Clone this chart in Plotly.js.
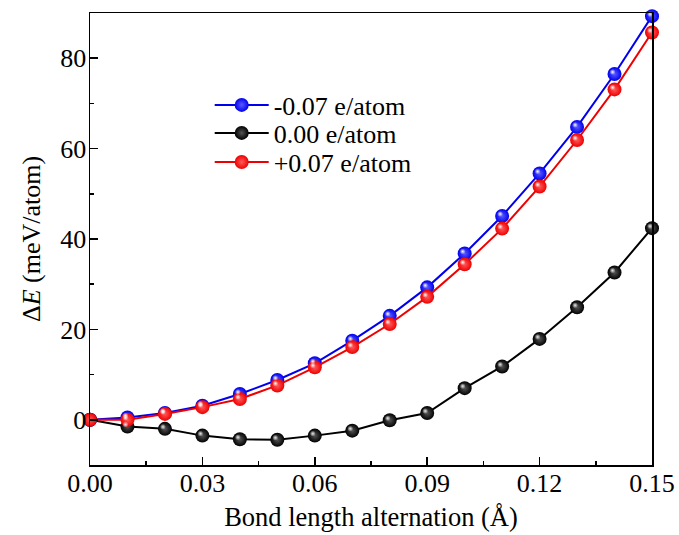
<!DOCTYPE html>
<html>
<head>
<meta charset="utf-8">
<script src="https://cdn.plot.ly/plotly-3.0.1.min.js"></script>
<style>html,body{margin:0;padding:0;background:#fff;}#chart{width:679px;height:535px;}</style>
</head>
<body>
<div id="chart"></div>
<script>
const bla = [0.00, 0.01, 0.02, 0.03, 0.04, 0.05, 0.06, 0.07, 0.08, 0.09, 0.10, 0.11, 0.12, 0.13, 0.14, 0.15];
const eNeg = [0.0, 0.5, 1.5, 3.1, 5.7, 8.8, 12.5, 17.5, 23.0, 29.3, 36.8, 45.1, 54.5, 64.8, 76.5, 89.3];
const eZero = [0.0, -1.5, -2.0, -3.5, -4.3, -4.4, -3.5, -2.4, -0.1, 1.5, 7.0, 11.8, 17.9, 24.9, 32.6, 42.4];
const ePos = [0.0, 0.0, 1.3, 2.8, 4.6, 7.6, 11.6, 16.1, 21.2, 27.2, 34.4, 42.3, 51.6, 61.9, 73.1, 85.7];
const names = ['-0.07 e/atom', '0.00 e/atom', '+0.07 e/atom'];
const xTitle = 'Bond length alternation (Å)';
const yTitle = 'Δ<i>E</i> (meV/atom)';

const FONT = "'Liberation Serif', 'Times New Roman', serif";
const X0 = 0, X1 = 0.15, Y0 = -10, Y1 = 90;
// plot area size in px, used to shift the highlight overlay by a couple of pixels
const PW = 562, PH = 452;
const dx = 2 * (X1 - X0) / PW, dy = 2 * (Y1 - Y0) / PH;

function trace(y, name, color, mid, leg) {
  return {
    x: bla, y: y, name: name, type: 'scatter', mode: 'lines+markers',
    line: {color: color, width: 2},
    marker: {color: color, size: 14, line: {width: 0},
             gradient: {type: 'radial', color: mid}},
    cliponaxis: false, legend: leg
  };
}
function highlight(y, hl) {
  return {
    x: bla, y: y, type: 'scatter', mode: 'markers', showlegend: false,
    xaxis: 'x2', yaxis: 'y2',
    marker: {color: 'rgba(255,255,255,0)', size: 6, line: {width: 0},
             gradient: {type: 'radial', color: hl}},
    cliponaxis: false, hoverinfo: 'skip'
  };
}
const data = [
  trace(eNeg, names[0], '#0000ee', '#5a5aff', 'legend'),
  trace(eZero, names[1], '#000000', '#555555', 'legend2'),
  trace(ePos, names[2], '#ee0000', '#ff5a5a', 'legend3'),
  highlight(eNeg, '#ffffff'),
  highlight(eZero, '#e8e8e8'),
  highlight(ePos, '#ffffff')
];
const axisCommon = {
  showline: true, linecolor: '#000', linewidth: 1.5, mirror: true,
  ticks: 'inside', ticklen: 8, tickwidth: 1.5, tickcolor: '#000',
  showgrid: false, zeroline: false,
  tickfont: {family: FONT, size: 26, color: '#000'}
};
function leg(py) {
  return {x: 0.213, y: py, xanchor: 'left', yanchor: 'middle',
          bgcolor: 'rgba(0,0,0,0)', borderwidth: 0,
          font: {family: FONT, size: 26, color: '#000'},
          itemwidth: 54};
}
const layout = {
  width: 679, height: 535,
  margin: {l: 90, r: 27, t: 13, b: 70},
  paper_bgcolor: '#fff', plot_bgcolor: '#fff',
  font: {family: FONT, color: '#000'},
  showlegend: true,
  legend: leg(0.7965), legend2: leg(0.7345), legend3: leg(0.670),
  xaxis: Object.assign({}, axisCommon, {
    range: [X0, X1], dtick: 0.03, tick0: 0, tickformat: '.2f', ticklabelstandoff: -6,
    minor: {dtick: 0.015, ticks: 'inside', ticklen: 4, tickwidth: 1.5, tickcolor: '#000'},
    title: {text: xTitle, font: {family: FONT, size: 26.5, color: '#000'}, standoff: 10}
  }),
  yaxis: Object.assign({}, axisCommon, {
    range: [Y0, Y1], dtick: 20, tick0: 0, ticklabelstandoff: -3,
    minor: {dtick: 10, ticks: 'inside', ticklen: 4, tickwidth: 1.5, tickcolor: '#000'},
    title: {text: yTitle, font: {family: FONT, size: 26, color: '#000'}, standoff: 12}
  }),
  xaxis2: {overlaying: 'x', range: [X0 + dx, X1 + dx], visible: false, fixedrange: true},
  yaxis2: {overlaying: 'y', range: [Y0 - dy, Y1 - dy], visible: false, fixedrange: true}
};
Plotly.newPlot('chart', data, layout, {displayModeBar: false, staticPlot: true});
</script>
</body>
</html>
